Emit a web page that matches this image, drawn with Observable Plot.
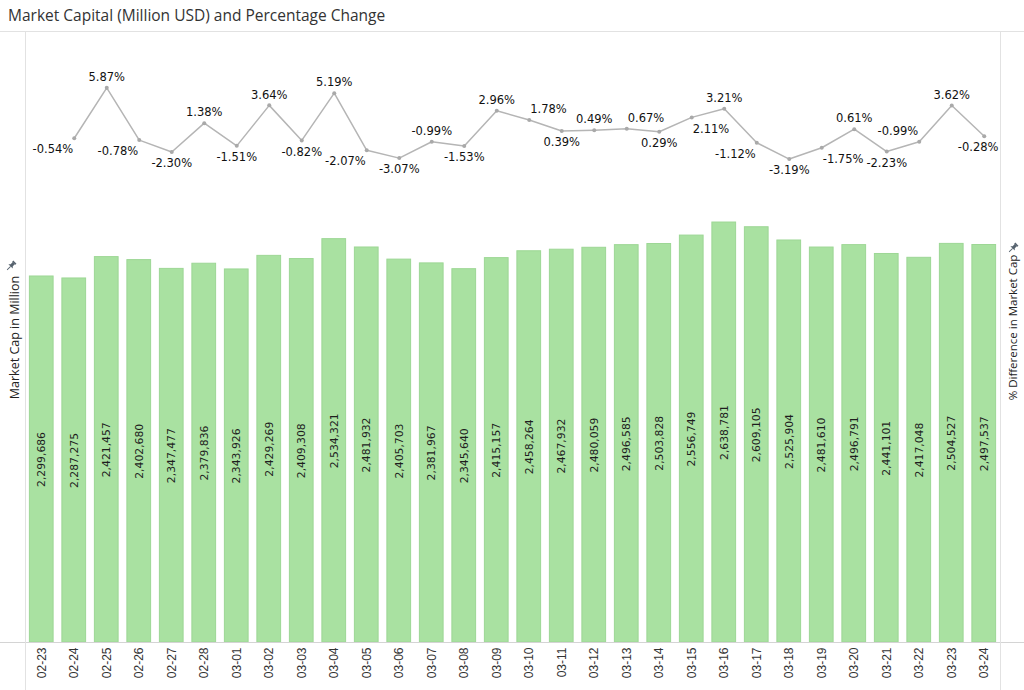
<!DOCTYPE html>
<html><head><meta charset="utf-8">
<script src="https://cdn.jsdelivr.net/npm/d3@7"></script>
<script src="https://cdn.jsdelivr.net/npm/@observablehq/plot@0.6"></script>
<style>
body{margin:0;background:#fff;}
#wrap{position:relative;width:1024px;height:690px;overflow:hidden;font-family:"Open Sans",sans-serif;}
#title{position:absolute;left:8px;top:0;height:31px;line-height:31px;font-size:15.5px;color:#333;white-space:nowrap;}
.layer{position:absolute;left:0;top:30px;}
.hl{position:absolute;height:1px;background:#e2e2e2;left:0;width:1024px;}
.vl{position:absolute;width:1px;background:#e2e2e2;}
.pin{position:absolute;}
</style></head><body>
<div id="wrap">
<div id="title">Market Capital (Million USD) and Percentage Change</div>
<div id="bars" class="layer"></div>
<div id="line" class="layer"></div>
<div class="hl" style="top:31px"></div>
<div class="hl" style="top:642px;background:#d4d4d4"></div>
<div class="vl" style="left:25px;top:31px;height:659px"></div>
<div class="vl" style="left:1000px;top:31px;height:659px"></div>
<svg class="pin" width="12" height="12" viewBox="0 0 12 12" style="left:5px;top:260px"><g transform="rotate(45 6 6)" fill="#56626e"><rect x="3.8" y="0.5" width="4.4" height="1.6"/><path d="M4.5 2 h3 v3 l1.6 1.6 h-6.2 l1.6-1.6z"/><rect x="5.6" y="6.5" width="0.8" height="5"/></g></svg>
<svg class="pin" width="12" height="12" viewBox="0 0 12 12" style="left:1007px;top:242px"><g transform="rotate(45 6 6)" fill="#56626e"><rect x="3.8" y="0.5" width="4.4" height="1.6"/><path d="M4.5 2 h3 v3 l1.6 1.6 h-6.2 l1.6-1.6z"/><rect x="5.6" y="6.5" width="0.8" height="5"/></g></svg>
</div>
<script>
// ---- data ----
const dates = ["02-23","02-24","02-25","02-26","02-27","02-28","03-01","03-02","03-03","03-04",
  "03-05","03-06","03-07","03-08","03-09","03-10","03-11","03-12","03-13","03-14",
  "03-15","03-16","03-17","03-18","03-19","03-20","03-21","03-22","03-23","03-24"];
const marketCaps = [2299686,2287275,2421457,2402680,2347477,2379836,2343926,2429269,2409308,2534321,
  2481932,2405703,2381967,2345640,2415157,2458264,2467932,2480059,2496585,2503828,
  2556749,2638781,2609105,2525904,2481610,2496791,2441101,2417048,2504527,2497537];
const pctDates = dates.slice(1);
const pctChanges = [-0.54,5.87,-0.78,-2.30,1.38,-1.51,3.64,-0.82,5.19,-2.07,
  -3.07,-0.99,-1.53,2.96,1.78,0.39,0.49,0.67,0.29,2.11,
  3.21,-1.12,-3.19,-1.75,0.61,-2.23,-0.99,3.62,-0.28];
const leftTitle = "Market Cap in Million";
const rightTitle = "% Difference in Market Cap";

// ---- layout ----
const W = 1024, H = 660;
const margins = {marginTop: 2, marginRight: 24, marginBottom: 48, marginLeft: 25};
const xOpts = {type: "band", domain: dates, paddingInner: 0.27, paddingOuter: 0.135, round: false, label: null};
const fmt = d3.format(",");

const barData = dates.map((d, i) => ({date: d, cap: marketCaps[i]}));
const lineData = pctDates.map((d, i) => ({date: d, pct: pctChanges[i], label: pctChanges[i].toFixed(2) + "%"}));

const barPlot = Plot.plot({
  width: W, height: H, ...margins,
  style: {background: "transparent", color: "#333", fontFamily: "'Liberation Sans', Arial, sans-serif", fontSize: "12px", overflow: "visible"},
  x: xOpts,
  y: {domain: [0, 3832700], axis: null},
  marks: [
    Plot.barY(barData, {x: "date", y: "cap", fill: "#a9e1a1", stroke: "#9dd795", strokeWidth: 1}),
    Plot.text(barData, {x: "date", y: d => d.cap / 2, text: d => fmt(d.cap), rotate: -90,
      fontSize: 10.8, fontFamily: "'DejaVu Sans', sans-serif", fill: "#1e1e1e"}),
    Plot.axisX({tickRotate: -90, tickSize: 0, tickPadding: 5, label: null, fontSize: 12}),
    Plot.text([leftTitle], {text: d => d, frameAnchor: "left", textAnchor: "middle", rotate: -90, dx: -11, dy: 0,
      fontSize: 12.5, fontFamily: "'Open Sans', sans-serif", fill: "#222"}),
    Plot.text([rightTitle], {text: d => d, frameAnchor: "right", textAnchor: "middle", rotate: -90, dx: 13, dy: -10,
      fontSize: 11.5, fontFamily: "'Open Sans', sans-serif", fill: "#222"})
  ]
});
document.getElementById("bars").appendChild(barPlot);

// ---- line layer ----
const yLine = {domain: [-64.69, 12.91], axis: null};
const lineMarks = [
  Plot.line(lineData, {x: "date", y: "pct", stroke: "#b5b5b5", strokeWidth: 1.5}),
  Plot.dot(lineData, {x: "date", y: "pct", r: 2, fill: "#a9a9a9"})
];
const probe = Plot.plot({width: W, height: H, ...margins, x: {...xOpts, axis: null}, y: yLine, marks: lineMarks});
const xs = probe.scale("x"), ys = probe.scale("y");
const rightEdge = W - margins.marginRight;

// approximate label widths from DejaVu Sans glyph advances (em units)
const LFONT = 11.5;
const adv = c => c === "." ? 0.318 : c === "-" ? 0.361 : c === "%" ? 0.95 : 0.636;
const textW = s => Array.from(s).reduce((a, c) => a + adv(c), 0) * LFONT;
const OFF = {A: -10.5, B: 11.5};
const pts = lineData.map(d => ({...d, px: xs.apply(d.date) + xs.bandwidth / 2, py: ys.apply(d.pct), w: textW(d.label)}));

function makeBox(p, v, h) {
  let x0 = h === "C" ? p.px - p.w / 2 : h === "R" ? p.px + 1 : p.px - 1 - p.w;
  let clamp = false;
  if (x0 + p.w > rightEdge - 2) { x0 = rightEdge - 2 - p.w; clamp = true; }
  const cy = p.py + OFF[v];
  return {x0, x1: x0 + p.w, y0: cy - 6.5, y1: cy + 6.5, v, h, clamp};
}
const placed = [];
function collides(b) {
  return placed.some(o => b.x0 < o.x1 && o.x0 < b.x1 && b.y0 < o.y1 + 2 && o.y0 < b.y1 + 2);
}
const opp = v => v === "A" ? "B" : "A";
function candidates(i) {
  const n = pts.length, p = pctChanges[i];
  const V = p >= 0 ? "A" : "B";
  if (i === 0) return [[V, "L"], [opp(V), "L"], [V, "C"]];
  if (i === n - 1) return [[V, "R"], [opp(V), "R"], [V, "C"]];
  const dp = p - pctChanges[i - 1], dn = pctChanges[i + 1] - p;
  if (dp > 0 && dn < 0) return [["A", "C"], ["A", "R"], ["A", "L"]];
  if (dp < 0 && dn > 0) return [["B", "C"], ["B", "R"], ["B", "L"]];
  if (Math.abs(dp) < 0.5 && Math.abs(dn) < 0.5) return [[V, "C"], [V, "R"], [V, "L"], [opp(V), "C"]];
  const side = (v, desc) => desc ? (v === "B" ? "L" : "R") : (v === "B" ? "R" : "L");
  const desc = dp < 0;
  return [[V, side(V, desc)], [opp(V), side(opp(V), desc)], [V, "C"]];
}
const order = [0, pts.length - 1, ...d3.range(1, pts.length - 1)];
for (const i of order) {
  const cands = candidates(i);
  let chosen = null;
  for (const [v, h] of cands) {
    const b = makeBox(pts[i], v, h);
    if (!collides(b)) { chosen = b; break; }
  }
  if (!chosen) chosen = makeBox(pts[i], cands[0][0], cands[0][1]);
  placed.push(chosen);
  pts[i].place = chosen;
}

const labelStyle = {text: "label", fontSize: LFONT, fontFamily: "'DejaVu Sans', sans-serif", fill: "#111"};
const groups = d3.groups(pts, p => p.place.v + p.place.h + (p.place.clamp ? "K" : ""));
const labelMarks = groups.map(([key, arr]) => {
  const pl = arr[0].place;
  const dy = OFF[pl.v];
  if (pl.clamp) return Plot.text(arr, {...labelStyle, y: "pct", frameAnchor: "right", textAnchor: "end", dx: -2, dy});
  const anchor = pl.h === "C" ? "middle" : pl.h === "R" ? "start" : "end";
  const dx = pl.h === "C" ? 0 : pl.h === "R" ? 1 : -1;
  return Plot.text(arr, {...labelStyle, x: "date", y: "pct", textAnchor: anchor, dx, dy});
});

const linePlot = Plot.plot({
  width: W, height: H, ...margins,
  style: {background: "transparent", overflow: "visible"},
  x: {...xOpts, axis: null},
  y: yLine,
  marks: [...lineMarks, ...labelMarks]
});
document.getElementById("line").appendChild(linePlot);
</script>
</body></html>
